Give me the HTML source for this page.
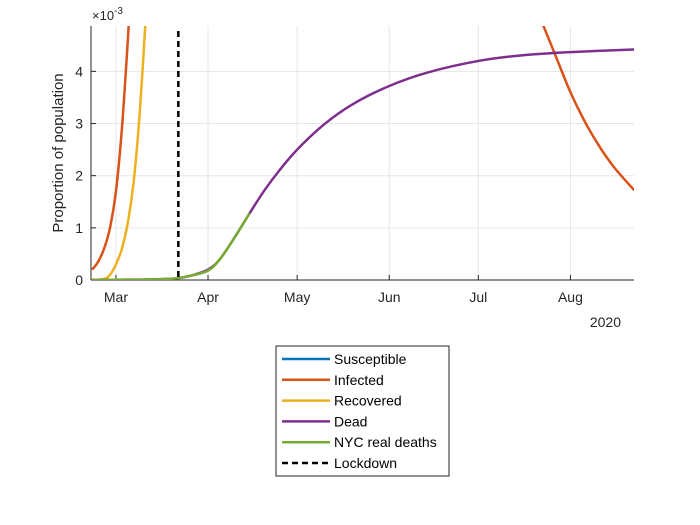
<!DOCTYPE html>
<html><head><meta charset="utf-8"><style>
body{margin:0;background:#fff;}
svg{display:block;font-family:"Liberation Sans",sans-serif;}
</style></head><body>
<svg id="c" width="700" height="525"></svg>
<script>
const monthLabels=["Mar","Apr","May","Jun","Jul","Aug"];
const monthDays=[0,31,61,92,122,153];
const yTicks=[0,1,2,3,4];
const infDays=[-8,-6,-4,-2,0,2,4,5,143,148,153,158,163,168,174.5];
const infVals=[0.2,0.35,0.6,1.0,1.7,2.9,4.6,5.6,5.0,4.3,3.6,3.02,2.54,2.14,1.72];
const recDays=[-8,-4,-2,0,2,4,6,8,10,11];
const recVals=[0,0.02,0.1,0.3,0.6,1.1,1.9,3.2,5.0,6.0];
const deadDays=[-8,0,10,20,25,31,35,40,45,50,55,61,70,80,92,105,122,137,153,174.5];
const deadVals=[0,0.005,0.01,0.03,0.08,0.2,0.4,0.82,1.28,1.72,2.1,2.5,2.98,3.38,3.72,3.98,4.2,4.31,4.37,4.42];
const realDays=[-8,0,10,20,25,31,35,40,45];
const realVals=[0,0.005,0.01,0.03,0.08,0.18,0.4,0.82,1.28];
const lockdownDay=21;
const L=91,R=634,T=26,B=280,dMin=-8.4,dMax=174.4,yMax=4.87;
const X=d=>L+(d-dMin)/(dMax-dMin)*(R-L);
const Y=v=>B-v/yMax*(B-T);
const ns="http://www.w3.org/2000/svg",svg=document.getElementById('c');
function el(t,a,p){const e=document.createElementNS(ns,t);for(const k in a)e.setAttribute(k,a[k]);(p||svg).appendChild(e);return e;}
const defs=el('defs',{});const cp=el('clipPath',{id:'clip'},defs);el('rect',{x:L,y:T,width:R-L,height:B-T},cp);
const bg=el('rect',{x:L,y:T,width:R-L,height:B-T,fill:'#fff'});


monthDays.forEach((d,i)=>{
 const g=el('line',{x1:X(d),x2:X(d),y1:T,y2:B,stroke:'#e6e6e6'});
 
 
 el('line',{x1:X(d),x2:X(d),y1:B,y2:B-5,stroke:'#262626'});
 const t=el('text',{x:X(d),y:B+22,'text-anchor':'middle','font-size':14,fill:'#262626'});t.textContent=monthLabels[i];
 
 
});
yTicks.forEach(v=>{
 const g=el('line',{x1:L,x2:R,y1:Y(v),y2:Y(v),stroke:'#e6e6e6'});
 
 
 el('line',{x1:L,x2:L+5,y1:Y(v),y2:Y(v),stroke:'#262626'});
 const t=el('text',{x:L-8,y:Y(v)+5,'text-anchor':'end','font-size':14,fill:'#262626'});t.textContent=v;
 
 
});
el('line',{x1:L,x2:L,y1:T,y2:B,stroke:'#262626'});
el('line',{x1:L,x2:R,y1:B,y2:B,stroke:'#262626'});
function smoothPath(pts){
 let d='M'+pts[0][0]+','+pts[0][1];
 for(let i=0;i<pts.length-1;i++){
  const p0=pts[Math.max(0,i-1)],p1=pts[i],p2=pts[i+1],p3=pts[Math.min(pts.length-1,i+2)];
  const c1=[p1[0]+(p2[0]-p0[0])/6,p1[1]+(p2[1]-p0[1])/6];
  const c2=[p2[0]-(p3[0]-p1[0])/6,p2[1]-(p3[1]-p1[1])/6];
  d+=' C'+c1+' '+c2+' '+p2;
 }
 return d;
}
function series(days,vals,color,name){
 const g=el('g',{'clip-path':'url(#clip)'});
 let segs=[[]];
 days.forEach((d,i)=>{ if(i>0&&d-days[i-1]>30)segs.push([]); segs[segs.length-1].push([X(d),Y(vals[i])]); });
 segs.forEach(s=>{const p=el('path',{d:smoothPath(s),fill:'none',stroke:color,'stroke-width':2.5},g);
  
  });
}
series(recDays,recVals,'#EDB120','recovered-line');
series(infDays,infVals,'#D95319','infected-line');
series(deadDays,deadVals,'#7E2F8E','dead-line');
series(realDays,realVals,'#77AC30','nyc-real-deaths-line');
const lk=el('line',{x1:X(lockdownDay),x2:X(lockdownDay),y1:T+5,y2:B,stroke:'#000','stroke-width':2.5,'stroke-dasharray':'6,4'});


const ex=el('text',{x:92,y:20,'font-size':13,fill:'#262626'});ex.innerHTML='×10<tspan dy="-6" font-size="10">-3</tspan>';


const yr=el('text',{x:621,y:327,'text-anchor':'end','font-size':14,fill:'#262626'});yr.textContent='2020';


const yt=el('text',{x:63,y:153,'text-anchor':'middle','font-size':15,fill:'#262626',transform:'rotate(-90 63 153)'});yt.textContent='Proportion of population';


const lg=el('g',{});


el('rect',{x:276,y:346,width:173,height:130,fill:'#fff',stroke:'#262626','stroke-width':1},lg);
const lnames=['Susceptible','Infected','Recovered','Dead','NYC real deaths','Lockdown'];
const lcolors=['#0072BD','#D95319','#EDB120','#7E2F8E','#77AC30','#000'];
lnames.forEach((n,i)=>{
 const y=359+i*20.8;
 const e=el('g',{},lg);
 
 
 el('line',{x1:282,x2:330,y1:y,y2:y,stroke:lcolors[i],'stroke-width':2.5,'stroke-dasharray':i==5?'6,4':'none'},e);
 const t=el('text',{x:334,y:y+5,'font-size':14,fill:'#000'},e);t.textContent=n;
});
</script></body></html>
